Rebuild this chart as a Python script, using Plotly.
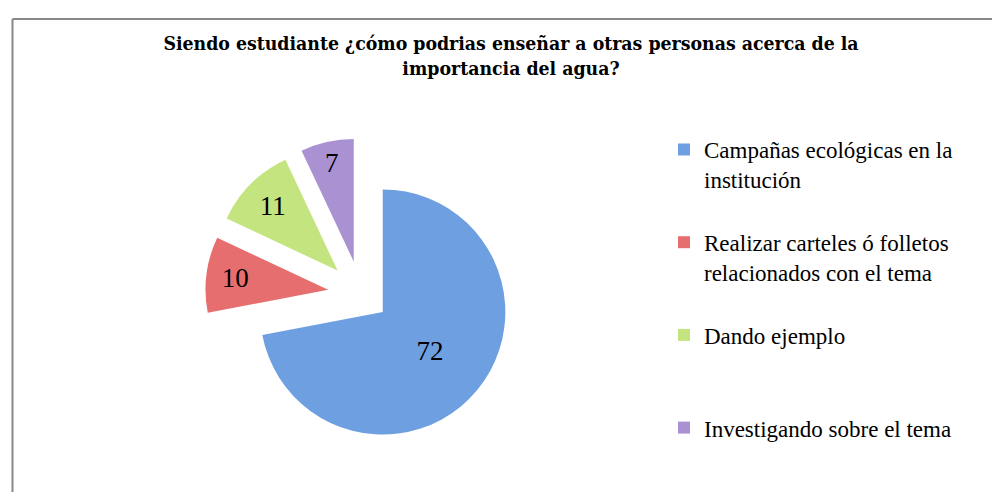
import plotly.graph_objects as go

categories = [
    "Campañas ecológicas en la<br>institución",
    "Realizar carteles ó folletos<br>relacionados con el tema",
    "Dando ejemplo",
    "Investigando sobre el tema",
]
# blank lines keep the legend entries evenly spaced, as in the original
legend_pad = ["<br> ", "<br> ", "<br> <br> ", ""]
values = [72, 10, 11, 7]
colors = ["#6E9FE0", "#E66E6E", "#C3E47F", "#AA92D2"]
pulls = [0.23, 0.27, 0.27, 0.27]

title_text = ("<b>Siendo estudiante ¿cómo podrias enseñar a otras personas acerca de la"
              "<br>importancia del agua?</b>")

W, H = 1000, 492
cx, cy = 353.0, 286.0
half = 155.7

labels = [c + p for c, p in zip(categories, legend_pad)]

fig = go.Figure(go.Pie(
    labels=labels,
    values=values,
    sort=False,
    direction="clockwise",
    rotation=0,
    pull=pulls,
    marker=dict(colors=colors, line=dict(width=0)),
    textinfo="value",
    textposition="inside",
    insidetextorientation="horizontal",
    textfont=dict(family="Liberation Serif", size=27, color="#000000"),
    domain=dict(x=[(cx - half) / W, (cx + half) / W],
                y=[(H - cy - half) / H, (H - cy + half) / H]),
    hoverinfo="label+value",
))

fig.update_layout(
    width=W, height=H,
    margin=dict(l=0, r=0, t=0, b=0),
    paper_bgcolor="white",
    plot_bgcolor="white",
    title=dict(text=title_text, x=0.503, xanchor="center", y=0.914, yanchor="middle",
               font=dict(family="DejaVu Serif Condensed", size=19.3, color="#000000")),
    legend=dict(
        x=0.656, xanchor="left", y=0.756, yanchor="top",
        font=dict(family="Liberation Serif", size=23, color="#000000"),
        valign="top",
        tracegroupgap=0,
    ),
    showlegend=True,
    shapes=[
        dict(type="line", xref="paper", yref="paper", x0=0.0045, x1=1, y0=1 - 11 / H, y1=1 - 11 / H,
             line=dict(color="#888888", width=2)),
        dict(type="line", xref="paper", yref="paper", x0=0.0045, x1=0.0045, y0=0, y1=1 - 11 / H,
             line=dict(color="#888888", width=2)),
    ],
)

fig.write_html("out.html")
